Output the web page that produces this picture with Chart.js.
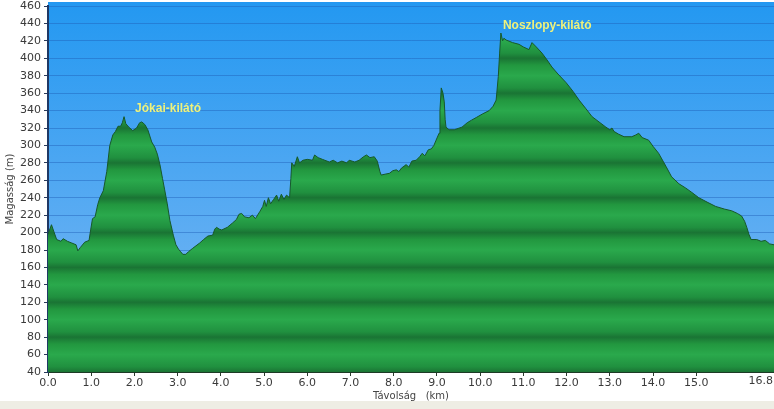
<!DOCTYPE html>
<html>
<head>
<meta charset="utf-8">
<script src="https://cdn.jsdelivr.net/npm/chart.js@4/dist/chart.umd.min.js"></script>
<style>
  html, body { margin: 0; padding: 0; background: #fff; }
  #wrap { position: relative; width: 774px; height: 409px; overflow: hidden;
          background: linear-gradient(to bottom, #ffffff 0, #ffffff 401px, #eeede4 401px); }
  canvas { display: block; }
</style>
</head>
<body>
<div id="wrap"><canvas id="profile" width="774" height="409"></canvas></div>
<script>
// distance along the route (km) and altitude (m)
const distKm = [
  0.00, 0.08, 0.20, 0.30, 0.35, 0.45, 0.55, 0.65, 0.69, 0.75, 0.85, 0.95, 0.99, 1.03, 1.09, 1.15,
  1.20, 1.28, 1.36, 1.43, 1.50, 1.56, 1.62, 1.68, 1.72, 1.76, 1.80, 1.87, 1.96, 2.05, 2.12, 2.17,
  2.24, 2.31, 2.40, 2.47, 2.53, 2.59, 2.65, 2.70, 2.76, 2.82, 2.90, 2.96, 3.02, 3.07, 3.12, 3.19,
  3.25, 3.35, 3.51, 3.60, 3.70, 3.81, 3.86, 3.90, 3.96, 4.02, 4.15, 4.27, 4.36, 4.42, 4.48, 4.55,
  4.65, 4.73, 4.80, 4.90, 4.97, 5.01, 5.05, 5.10, 5.15, 5.22, 5.29, 5.34, 5.40, 5.46, 5.52, 5.59,
  5.62, 5.64, 5.70, 5.77, 5.82, 5.90, 6.00, 6.12, 6.17, 6.25, 6.35, 6.51, 6.60, 6.70, 6.80, 6.91,
  6.97, 7.10, 7.20, 7.30, 7.37, 7.45, 7.55, 7.62, 7.68, 7.71, 7.80, 7.90, 7.98, 8.06, 8.12, 8.18,
  8.29, 8.35, 8.42, 8.52, 8.60, 8.66, 8.72, 8.80, 8.87, 8.93, 8.98, 9.05, 9.07, 9.10, 9.14, 9.17,
  9.19, 9.21, 9.28, 9.40, 9.58, 9.70, 9.80, 9.91, 10.05, 10.21, 10.30, 10.37, 10.42, 10.45, 10.48, 10.52,
  10.55, 10.60, 10.75, 10.90, 11.00, 11.13, 11.20, 11.30, 11.43, 11.55, 11.66, 11.80, 11.99, 12.15, 12.29, 12.45,
  12.59, 12.75, 12.91, 13.00, 13.05, 13.10, 13.20, 13.33, 13.51, 13.60, 13.67, 13.75, 13.90, 14.00, 14.13, 14.30,
  14.43, 14.60, 14.76, 14.90, 15.06, 15.25, 15.45, 15.65, 15.82, 15.95, 16.05, 16.12, 16.17, 16.22, 16.27, 16.40,
  16.50, 16.60, 16.70, 16.80
];
const altitudeM = [
  198, 209, 192, 190, 193, 190, 188, 186, 179, 183, 189, 191, 204, 216, 218, 232,
  240, 248, 270, 300, 312, 316, 322, 322, 326, 333, 325, 321, 317, 320, 326, 327,
  324, 318, 304, 298, 290, 278, 262, 249, 233, 214, 197, 186, 181, 178, 175, 175,
  178, 182, 188, 192, 196, 197, 204, 206, 204, 203, 206, 211, 215, 221, 222, 218,
  217, 220, 216, 224, 230, 237, 230, 240, 233, 238, 243, 236, 244, 238, 243, 240,
  262, 280, 276, 287, 280, 283, 284, 283, 289, 286, 284, 281, 283, 280, 282, 280,
  283, 281, 283, 287, 289, 286, 287, 282, 270, 266, 267, 268, 271, 272, 270, 274,
  278, 275, 282, 283, 287, 291, 288, 295, 296, 300, 306, 314, 340, 366, 360, 350,
  330, 321, 318, 318, 321, 326, 329, 332, 336, 340, 345, 352, 379, 405, 429, 420,
  423, 421, 418, 416, 413, 410, 418, 413, 406, 398, 390, 382, 372, 362, 352, 342,
  333, 327, 321, 318, 320, 316, 313, 310, 310, 312, 314, 309, 306, 299, 291, 276,
  264, 256, 251, 246, 240, 235, 230, 227, 225, 222, 219, 213, 206, 198, 192, 192,
  190, 191, 187, 186
];

const xTicks = [0, 1, 2, 3, 4, 5, 6, 7, 8, 9, 10, 11, 12, 13, 14, 15];
const xMax = 16.8;
const yMin = 40;
const yMax = 460;
const yStep = 20;

const peakNames = ['Jókai-kilátó', 'Noszlopy-kilátó'];
const peakKm = [1.76, 10.48];
const peakAlt = [333, 429];

// label placement relative to the peak pixel
const peakOffsets = [[11, -8], [2, -7]];

const tickFont = {family: 'DejaVu Sans', size: 11};
const tickColor = '#3a3a3a';

function greenStripes(context) {
  const chart = context.chart;
  const area = chart.chartArea;
  if (!area) {
    return '#23a049';
  }
  const ys = chart.scales.y;
  const top = ys.getPixelForValue(yMax);
  const bottom = ys.getPixelForValue(yMin);
  const g = chart.ctx.createLinearGradient(0, top, 0, bottom);
  const stop = (v, c) => {
    const off = (ys.getPixelForValue(v) - top) / (bottom - top);
    if (off >= 0 && off <= 1) {
      g.addColorStop(off, c);
    }
  };
  for (let v = yMin; v < yMax; v += 2 * yStep) {
    stop(v, '#1a7434');
    stop(v + 6, '#20903f');
    stop(v + 20, '#2aa94c');
    stop(v + 32, '#22973f');
  }
  stop(yMax, '#1a7434');
  return g;
}

const skyPlugin = {
  id: 'sky',
  beforeDraw(chart) {
    const {ctx, chartArea: a} = chart;
    const g = ctx.createLinearGradient(0, a.top - 4, 0, a.bottom);
    g.addColorStop(0, '#2398f1');
    g.addColorStop(1, '#80b9f3');
    ctx.save();
    ctx.fillStyle = g;
    ctx.fillRect(a.left, a.top - 4, a.right - a.left, a.bottom - a.top + 4);
    ctx.restore();
  }
};

const labelsPlugin = {
  id: 'peakLabels',
  afterDraw(chart) {
    const {ctx} = chart;
    const xs = chart.scales.x;
    const ys = chart.scales.y;
    ctx.save();
    ctx.font = 'bold 12px "Liberation Sans", Arial, sans-serif';
    ctx.fillStyle = '#eef27c';
    ctx.textAlign = 'left';
    ctx.textBaseline = 'middle';
    peakNames.forEach((name, i) => {
      const px = xs.getPixelForValue(peakKm[i]) + peakOffsets[i][0];
      const py = ys.getPixelForValue(peakAlt[i]) + peakOffsets[i][1];
      ctx.fillText(name, px, py);
    });

    // end-of-route distance label, pulled inside the canvas
    ctx.font = '11px "DejaVu Sans"';
    ctx.fillStyle = tickColor;
    ctx.textAlign = 'right';
    ctx.textBaseline = 'top';
    ctx.fillText(xMax.toFixed(1), chart.width - 1, xs.top + 4);

    // axis titles
    ctx.font = '10px "DejaVu Sans"';
    ctx.fillStyle = '#444';
    ctx.textAlign = 'center';
    ctx.textBaseline = 'middle';
    ctx.fillText('Távolság   (km)', (xs.left + xs.right) / 2, 396);
    ctx.translate(10, (ys.top + ys.bottom) / 2);
    ctx.rotate(-Math.PI / 2);
    ctx.fillText('Magasság (m)', 0, 0);
    ctx.restore();
  }
};

new Chart(document.getElementById('profile'), {
  type: 'line',
  data: {
    datasets: [{
      data: distKm.map((d, i) => ({x: d, y: altitudeM[i]})),
      borderColor: '#17582b',
      borderWidth: 1,
      backgroundColor: greenStripes,
      fill: 'start',
      pointRadius: 0,
      tension: 0
    }]
  },
  options: {
    responsive: false,
    animation: false,
    layout: {padding: {top: 6, right: 0, bottom: 7, left: 0}},
    plugins: {legend: {display: false}, tooltip: {enabled: false}},
    scales: {
      x: {
        type: 'linear',
        min: 0,
        max: xMax,
        afterBuildTicks: (scale) => {
          scale.ticks = xTicks.map(v => ({value: v}));
        },
        afterFit: (scale) => {
          scale.height = 30;
          scale.paddingLeft = 0;
          scale.paddingRight = 0;
        },
        grid: {drawOnChartArea: false, tickLength: 4, tickColor: '#2b3b2e'},
        border: {color: '#1d3a26', width: 2},
        ticks: {
          font: tickFont,
          color: tickColor,
          padding: 1,
          maxRotation: 0,
          autoSkip: false,
          callback: (v) => Number(v).toFixed(1)
        }
      },
      y: {
        min: yMin,
        max: yMax,
        afterFit: (scale) => {
          scale.width = 48;
          scale.paddingTop = 0;
          scale.paddingBottom = 0;
        },
        grid: {color: 'rgba(30,95,185,0.45)', tickLength: 4, tickColor: '#2a3a5a', lineWidth: 1},
        border: {color: '#1f3864', width: 2},
        ticks: {
          stepSize: yStep,
          font: tickFont,
          color: tickColor,
          padding: 3,
          autoSkip: false
        }
      }
    }
  },
  plugins: [skyPlugin, labelsPlugin]
});
</script>
</body>
</html>
